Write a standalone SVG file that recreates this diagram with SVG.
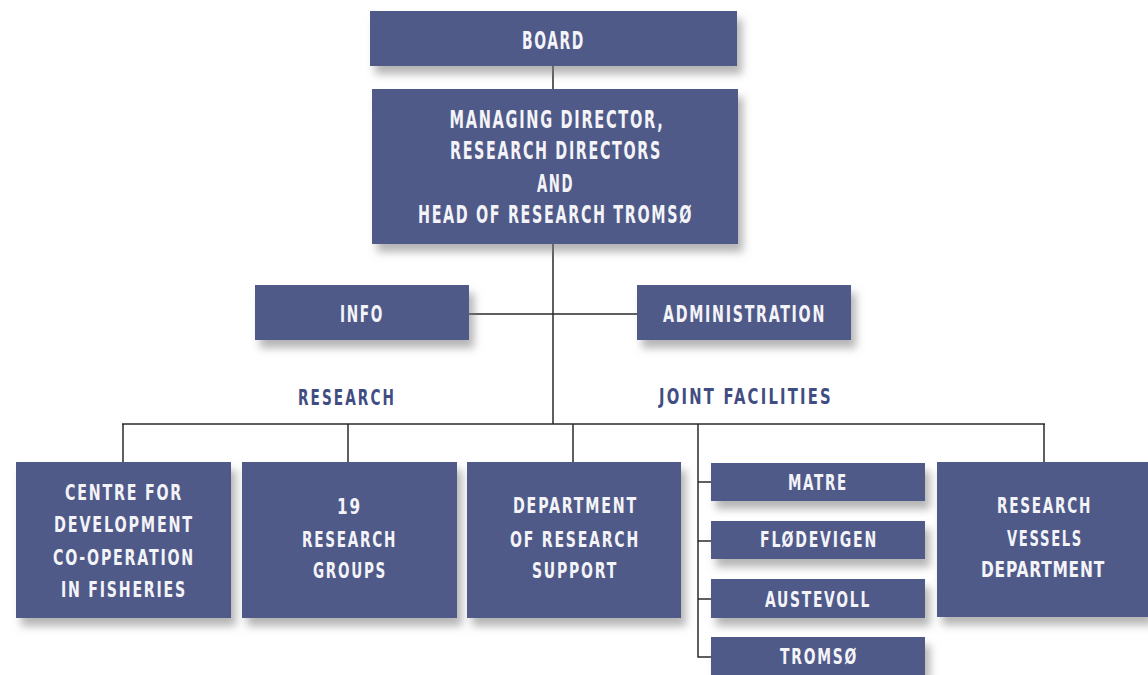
<svg xmlns="http://www.w3.org/2000/svg" width="1148" height="675" viewBox="0 0 1148 675">
<defs>
<filter id="sh" x="-10%" y="-20%" width="130%" height="160%">
<feDropShadow dx="5" dy="8" stdDeviation="4" flood-color="#777" flood-opacity="0.55"/>
</filter>
<style>
.box{fill:#4f5a89;filter:url(#sh)}
.t{font-family:"Liberation Sans Narrow","DejaVu Sans Condensed","Liberation Sans",sans-serif;font-weight:bold;fill:#f4f4f8;text-anchor:middle;letter-spacing:2.5px}
.big{font-size:24px}
.mid{font-size:23px}
.sm{font-size:22px}
.ns{letter-spacing:1px}
.lbl{font-family:"Liberation Sans Narrow","DejaVu Sans Condensed","Liberation Sans",sans-serif;font-weight:bold;font-size:22px;fill:#414d82;text-anchor:middle;letter-spacing:3px}
.c{stroke:#2a2a2a;stroke-width:1.5;fill:none}
</style>
</defs>
<rect width="1148" height="675" fill="#ffffff"/>
<g id="connectors">
<line class="c" x1="553" y1="66" x2="553" y2="89"/>
<line class="c" x1="553" y1="244" x2="553" y2="424"/>
<line class="c" x1="469" y1="314" x2="637" y2="314"/>
<line class="c" x1="122" y1="424" x2="1045" y2="424"/>
<line class="c" x1="123" y1="424" x2="123" y2="462"/>
<line class="c" x1="348" y1="424" x2="348" y2="462"/>
<line class="c" x1="573" y1="424" x2="573" y2="462"/>
<line class="c" x1="1044" y1="424" x2="1044" y2="462"/>
<polyline class="c" points="698,424 698,657 711,657"/>
<line class="c" x1="698" y1="482" x2="711" y2="482"/>
<line class="c" x1="698" y1="541" x2="711" y2="541"/>
<line class="c" x1="698" y1="599" x2="711" y2="599"/>
</g>
<g id="board">
<rect class="box" x="370" y="11" width="367" height="55"/>
<text class="t big" x="553.5" y="49" textLength="63" lengthAdjust="spacingAndGlyphs">BOARD</text>
</g>
<g id="management">
<rect class="box" x="372" y="89" width="366" height="155"/>
<text class="t big" x="557" y="128" textLength="215" lengthAdjust="spacingAndGlyphs">MANAGING DIRECTOR,</text>
<text class="t big" x="556" y="159" textLength="212" lengthAdjust="spacingAndGlyphs">RESEARCH DIRECTORS</text>
<text class="t big" x="555.5" y="192" textLength="37" lengthAdjust="spacingAndGlyphs">AND</text>
<text class="t big" x="555.5" y="223" textLength="275" lengthAdjust="spacingAndGlyphs">HEAD OF RESEARCH TROMSØ</text>
</g>
<g id="info">
<rect class="box" x="255" y="285" width="214" height="55"/>
<text class="t mid" x="362" y="322" textLength="44" lengthAdjust="spacingAndGlyphs">INFO</text>
</g>
<g id="administration">
<rect class="box" x="637" y="285" width="214" height="55"/>
<text class="t mid" x="744.5" y="322" textLength="163" lengthAdjust="spacingAndGlyphs">ADMINISTRATION</text>
</g>
<g id="labels">
<text class="lbl" x="347" y="405" textLength="98" lengthAdjust="spacingAndGlyphs">RESEARCH</text>
<text class="lbl" x="746" y="404" textLength="174" lengthAdjust="spacingAndGlyphs">JOINT FACILITIES</text>
</g>
<g id="centre">
<rect class="box" x="16" y="462" width="215" height="156"/>
<text class="t sm" x="124" y="500" textLength="118" lengthAdjust="spacingAndGlyphs">CENTRE FOR</text>
<text class="t sm" x="124" y="532" textLength="140" lengthAdjust="spacingAndGlyphs">DEVELOPMENT</text>
<text class="t sm" x="124" y="565" textLength="142" lengthAdjust="spacingAndGlyphs">CO-OPERATION</text>
<text class="t sm" x="124" y="597" textLength="126" lengthAdjust="spacingAndGlyphs">IN FISHERIES</text>
</g>
<g id="groups">
<rect class="box" x="242" y="462" width="215" height="156"/>
<text class="t sm" x="349.5" y="514" textLength="25" lengthAdjust="spacingAndGlyphs">19</text>
<text class="t sm" x="349.5" y="547" textLength="95" lengthAdjust="spacingAndGlyphs">RESEARCH</text>
<text class="t sm" x="350" y="578" textLength="74" lengthAdjust="spacingAndGlyphs">GROUPS</text>
</g>
<g id="support">
<rect class="box" x="467" y="462" width="214" height="156"/>
<text class="t sm" x="575.5" y="513" textLength="125" lengthAdjust="spacingAndGlyphs">DEPARTMENT</text>
<text class="t sm" x="575" y="547" textLength="130" lengthAdjust="spacingAndGlyphs">OF RESEARCH</text>
<text class="t sm" x="575" y="578" textLength="86" lengthAdjust="spacingAndGlyphs">SUPPORT</text>
</g>
<g id="matre">
<rect class="box" x="711" y="463" width="214" height="38"/>
<text class="t sm" x="818" y="490" textLength="60" lengthAdjust="spacingAndGlyphs">MATRE</text>
</g>
<g id="flodevigen">
<rect class="box" x="711" y="521" width="214" height="38"/>
<text class="t sm" x="819" y="547" textLength="118" lengthAdjust="spacingAndGlyphs">FLØDEVIGEN</text>
</g>
<g id="austevoll">
<rect class="box" x="711" y="579" width="214" height="39"/>
<text class="t sm" x="818" y="607" textLength="106" lengthAdjust="spacingAndGlyphs">AUSTEVOLL</text>
</g>
<g id="tromso">
<rect class="box" x="711" y="637" width="214" height="38"/>
<text class="t sm" x="819" y="664" textLength="78" lengthAdjust="spacingAndGlyphs">TROMSØ</text>
</g>
<g id="vessels">
<rect class="box" x="937" y="462" width="211" height="155"/>
<text class="t sm" x="1044.5" y="513" textLength="95" lengthAdjust="spacingAndGlyphs">RESEARCH</text>
<text class="t sm" x="1045" y="546" textLength="76" lengthAdjust="spacingAndGlyphs">VESSELS</text>
<text class="t sm ns" x="1043" y="577" textLength="124" lengthAdjust="spacingAndGlyphs">DEPARTMENT</text>
</g>
</svg>
